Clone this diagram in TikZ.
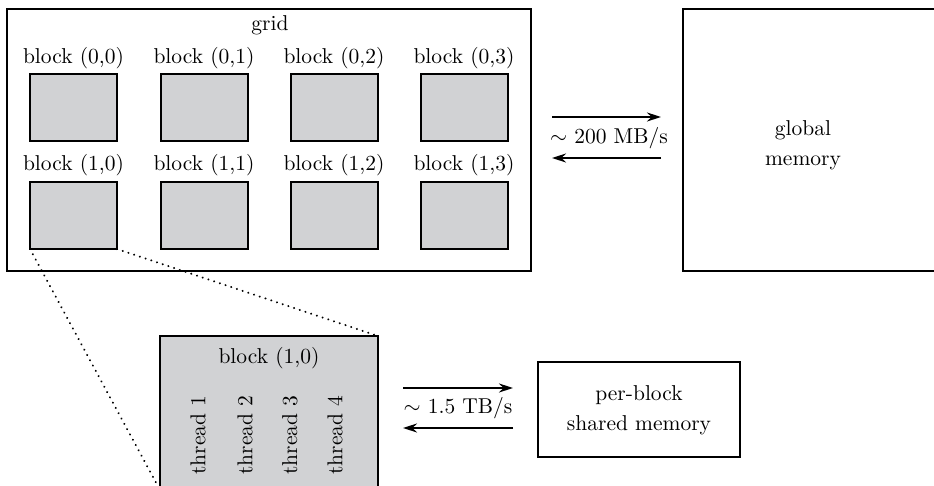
\documentclass[tikz,border=0pt]{standalone}
\usetikzlibrary{arrows.meta}
\definecolor{blockgray}{RGB}{209,210,212}
\begin{document}
\begin{tikzpicture}[x=0.5pt,y=-0.5pt,
  font=\fontsize{10.75}{15}\selectfont,
  box/.style={draw, line width=1pt, inner sep=0pt, outer sep=0pt},
  smallblock/.style={box, fill=blockgray, minimum width=43.5pt, minimum height=33.5pt},
  lbl/.style={inner sep=0pt, anchor=center},
  zoomline/.style={line width=1.1pt, dash pattern=on 0.01pt off 3pt, line cap=round},
  flow/.style={line width=0.8pt, -{Stealth[length=7pt,width=4.5pt]}}]
\useasboundingbox (0,0) rectangle (934,486);
\clip (0,0) rectangle (934,486);
% grid
\node[box, minimum width=262pt, minimum height=131pt] (grid) at (269,140) {};
\node[lbl] (gridlbl) at (270,25) {grid};
% small blocks
\foreach \c/\x in {0/73.5,1/204,2/334,3/464}{
  \node[smallblock] (b0\c) at (\x,108) {};
  \node[lbl] (l0\c) at (\x,58) {block (0,\c)};
  \node[smallblock] (b1\c) at (\x,215.5) {};
  \node[lbl] (l1\c) at (\x,165) {block (1,\c)};
}
% global memory
\node[box, minimum width=130pt, minimum height=131pt] (glob) at (813,140) {};
\node[lbl, align=center] (globlbl) at (803,145) {global\\memory};
% arrows top
\coordinate (t1) at (552,117);
\coordinate (t2) at (661,117);
\coordinate (t3) at (552,158);
\coordinate (t4) at (661,158);
\draw[flow] (t1) -- (t2);
\draw[flow] (t4) -- (t3);
\node[lbl] (bw1) at (609,138) {$\sim$ 200 MB/s};
% big block
\node[box, fill=blockgray, minimum width=109pt, minimum height=77pt] (big) at (269,413) {};
\node[lbl] (biglbl) at (269,358) {block (1,0)};
\foreach \i/\x in {1/198,2/245,3/290,4/335}{
  \node[lbl, rotate=90] (th\i) at (\x,435) {thread \i};
}
% zoom lines
\draw[zoomline] (b10.south west) -- (big.south west);
\draw[zoomline] (b10.south east) -- (big.north east);
% shared memory
\node[box, minimum width=101pt, minimum height=47.5pt] (shared) at (639,409.5) {};
\node[lbl, align=center] (sharedlbl) at (639,410) {per-block\\shared memory};
% arrows bottom
\coordinate (s1) at (403,388);
\coordinate (s2) at (513,388);
\coordinate (s3) at (403,428);
\coordinate (s4) at (513,428);
\draw[flow] (s1) -- (s2);
\draw[flow] (s4) -- (s3);
\node[lbl] (bw2) at (458,408) {$\sim$ 1.5 TB/s};
\end{tikzpicture}
\end{document}
